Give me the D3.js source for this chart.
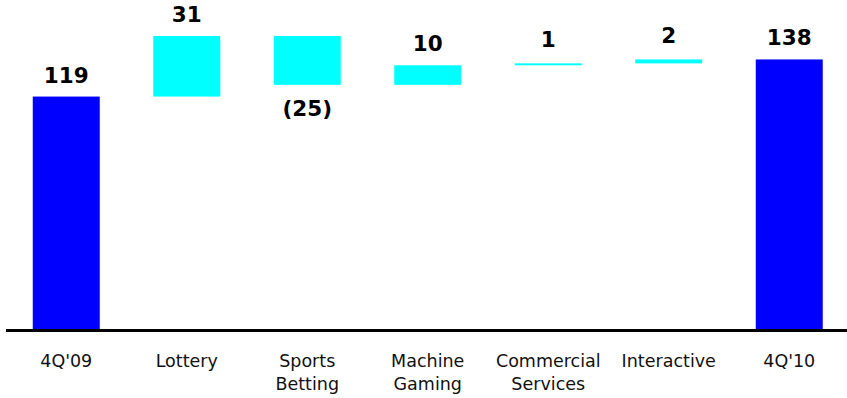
<!DOCTYPE html>
<html>
<head>
<meta charset="utf-8">
<script src="https://cdn.jsdelivr.net/npm/d3@7"></script>
<style>
  html, body { margin: 0; padding: 0; background: #fff; }
  svg { display: block; }
</style>
</head>
<body>
<svg id="chart" width="847" height="398"></svg>
<script>
// Waterfall: 4Q'09 to 4Q'10 by business line
const categories = ["4Q'09", "Lottery", "Sports Betting", "Machine Gaming", "Commercial Services", "Interactive", "4Q'10"];
const categoryLines = [["4Q'09"], ["Lottery"], ["Sports", "Betting"], ["Machine", "Gaming"], ["Commercial", "Services"], ["Interactive"], ["4Q'10"]];
const values = [119, 31, -25, 10, 1, 2, 138];
const isTotal = [true, false, false, false, false, false, true];
const valueLabels = ["119", "31", "(25)", "10", "1", "2", "138"];

const totalColor = "#0000ff";
const deltaColor = "#00ffff";

const svg = d3.select("#chart");

// running totals give each step's start and end
let running = 0;
const bars = categories.map((c, i) => {
  let y0, y1;
  if (isTotal[i]) { y0 = 0; y1 = values[i]; running = values[i]; }
  else { y0 = running; y1 = running + values[i]; running = y1; }
  return { cat: c, lines: categoryLines[i], v: values[i], total: isTotal[i], lo: Math.min(y0, y1), hi: Math.max(y0, y1), label: valueLabels[i] };
});

const x = d3.scaleBand()
  .domain(categories)
  .range([6, 849.5])
  .paddingInner(0.444)
  .paddingOuter(0.222);

const y = d3.scaleLinear()
  .domain([0, 150])
  .range([329, 36]);

// bars
svg.append("g").selectAll("rect")
  .data(bars)
  .join("rect")
  .attr("x", d => x(d.cat))
  .attr("width", x.bandwidth())
  .attr("y", d => y(d.hi))
  .attr("height", d => y(d.lo) - y(d.hi))
  .attr("fill", d => d.total ? totalColor : deltaColor);

// value labels: above for increases, below for decreases
svg.append("g").selectAll("text")
  .data(bars)
  .join("text")
  .attr("x", d => x(d.cat) + x.bandwidth() / 2)
  .attr("y", d => d.v < 0 ? y(d.lo) + 31 : y(d.hi) - (Math.abs(d.v) <= 2 ? 16 : 14))
  .attr("text-anchor", "middle")
  .attr("font-family", "'DejaVu Sans', Verdana, sans-serif")
  .attr("font-weight", "bold")
  .attr("font-size", "21.5px")
  .attr("fill", "#000")
  .text(d => d.label);

// baseline axis
const axis = d3.axisBottom(x).tickSize(0).tickFormat("");
const axisG = svg.append("g")
  .attr("transform", `translate(0,${y(0) + 1.5})`)
  .call(axis);
axisG.select(".domain")
  .attr("d", `M6,0H847`)
  .attr("stroke", "#000")
  .attr("stroke-width", 3);

// category labels, wrapped onto two lines
const catG = svg.append("g").selectAll("text")
  .data(bars)
  .join("text")
  .attr("x", d => x(d.cat) + x.bandwidth() / 2)
  .attr("y", 366.5)
  .attr("text-anchor", "middle")
  .attr("font-family", "'DejaVu Sans', Verdana, sans-serif")
  .attr("font-size", "17.5px")
  .attr("fill", "#111");
catG.selectAll("tspan")
  .data(d => d.lines.map(t => ({ t, cx: x(d.cat) + x.bandwidth() / 2 })))
  .join("tspan")
  .attr("x", d => d.cx)
  .attr("dy", (d, i) => i === 0 ? 0 : 23.5)
  .text(d => d.t);
</script>
</body>
</html>
